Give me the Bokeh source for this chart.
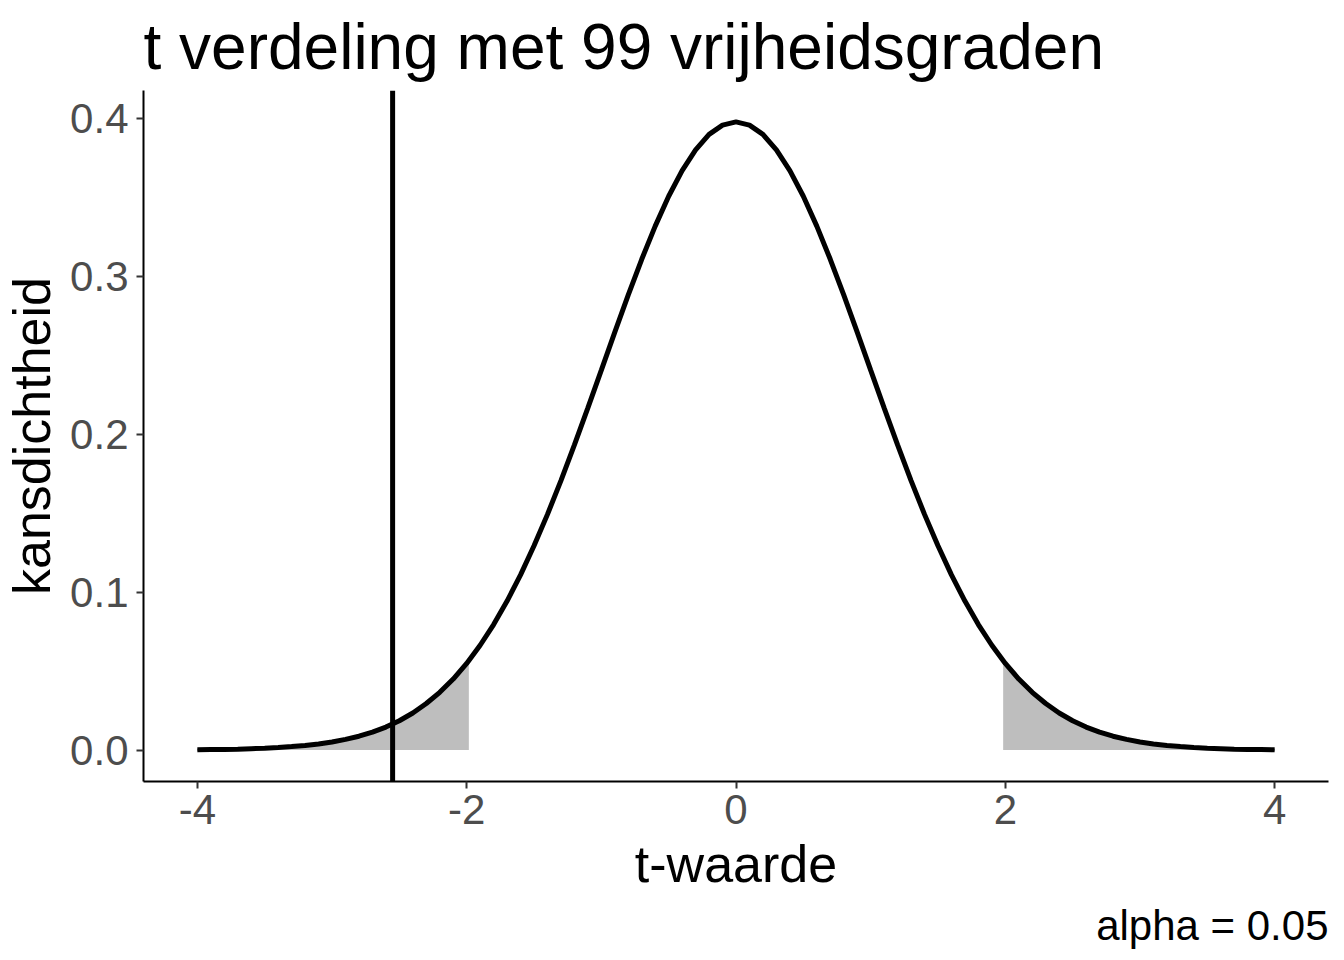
from bokeh.plotting import figure
from bokeh.models import Range1d, FixedTicker, Span, Title
from bokeh.embed import file_html
from bokeh.resources import INLINE

# ---- data ----
t_values = [-4.0, -3.9, -3.8, -3.7, -3.6, -3.5, -3.4, -3.3, -3.2, -3.1,
            -3.0, -2.9, -2.8, -2.7, -2.6, -2.5, -2.4, -2.3, -2.2, -2.1,
            -2.0, -1.9, -1.8, -1.7, -1.6, -1.5, -1.4, -1.3, -1.2, -1.1,
            -1.0, -0.9, -0.8, -0.7, -0.6, -0.5, -0.4, -0.3, -0.2, -0.1,
            0.0, 0.1, 0.2, 0.3, 0.4, 0.5, 0.6, 0.7, 0.8, 0.9,
            1.0, 1.1, 1.2, 1.3, 1.4, 1.5, 1.6, 1.7, 1.8, 1.9,
            2.0, 2.1, 2.2, 2.3, 2.4, 2.5, 2.6, 2.7, 2.8, 2.9,
            3.0, 3.1, 3.2, 3.3, 3.4, 3.5, 3.6, 3.7, 3.8, 3.9, 4.0]
density = [0.0002, 0.0003, 0.0004, 0.0006, 0.0009, 0.0012, 0.0016, 0.0022, 0.0029, 0.0039,
           0.0051, 0.0068, 0.0088, 0.0114, 0.0146, 0.0186, 0.0235, 0.0295, 0.0366, 0.0450,
           0.0549, 0.0664, 0.0795, 0.0944, 0.1110, 0.1294, 0.1493, 0.1707, 0.1933, 0.2168,
           0.2407, 0.2648, 0.2883, 0.3109, 0.3319, 0.3508, 0.3671, 0.3802, 0.3900, 0.3959,
           0.3979, 0.3959, 0.3900, 0.3802, 0.3671, 0.3508, 0.3319, 0.3109, 0.2883, 0.2648,
           0.2407, 0.2168, 0.1933, 0.1707, 0.1493, 0.1294, 0.1110, 0.0944, 0.0795, 0.0664,
           0.0549, 0.0450, 0.0366, 0.0295, 0.0235, 0.0186, 0.0146, 0.0114, 0.0088, 0.0068,
           0.0051, 0.0039, 0.0029, 0.0022, 0.0016, 0.0012, 0.0009, 0.0006, 0.0004, 0.0003, 0.0002]
critical_t = 1.984
critical_density = 0.0557
observed_t = -2.55

x_ticks = [-4, -2, 0, 2, 4]
x_tick_labels = ["-4", "-2", "0", "2", "4"]
y_ticks = [0.0, 0.1, 0.2, 0.3, 0.4]
y_tick_labels = ["0.0", "0.1", "0.2", "0.3", "0.4"]

title_text = "t verdeling met 99 vrijheidsgraden"
x_label = "t-waarde"
y_label = "kansdichtheid"
caption_text = "alpha = 0.05"

FONT = "Liberation Sans"
X_MIN, X_MAX = -4.4, 4.4
Y_MIN, Y_MAX = -0.0199, 0.4178

# tails for shading
left_x = [t for t in t_values if t <= -critical_t] + [-critical_t]
left_y = [d for t, d in zip(t_values, density) if t <= -critical_t] + [critical_density]
right_x = [critical_t] + [t for t in t_values if t >= critical_t]
right_y = [critical_density] + [d for t, d in zip(t_values, density) if t >= critical_t]

p = figure(width=1336, height=952, output_backend="svg", toolbar_location=None,
           x_range=Range1d(X_MIN, X_MAX), y_range=Range1d(Y_MIN, Y_MAX),
           min_border_left=136, min_border_right=8, min_border_top=82,
           min_border_bottom=171)

p.background_fill_color = "white"
p.border_fill_color = "white"
p.outline_line_color = None
p.xgrid.visible = False
p.ygrid.visible = False

# title
p.title.text = title_text
p.title.text_font = FONT
p.title.text_font_size = "64px"
p.title.text_font_style = "normal"
p.title.text_color = "black"
p.title.align = "left"
p.title.standoff = 16

# shaded tails
p.varea(x=left_x, y1=[0] * len(left_x), y2=left_y, fill_color="#BEBEBE")
p.varea(x=right_x, y1=[0] * len(right_x), y2=right_y, fill_color="#BEBEBE")
p.line(left_x, left_y, line_color="#6E6E6E", line_width=2)
p.line(right_x, right_y, line_color="#6E6E6E", line_width=2)

# density curve
p.line(t_values, density, line_color="black", line_width=5)

# observed t value
p.add_layout(Span(location=observed_t, dimension="height", line_color="black", line_width=5))

# axes
for ax in (p.xaxis[0], p.yaxis[0]):
    ax.axis_line_color = "black"
    ax.axis_line_width = 2
    ax.major_tick_line_color = "#333333"
    ax.major_tick_line_width = 2
    ax.major_tick_out = 7
    ax.major_tick_in = 0
    ax.minor_tick_line_color = None
    ax.major_label_text_font = FONT
    ax.major_label_text_font_size = "42px"
    ax.major_label_text_color = "#4D4D4D"
    ax.axis_label_text_font = FONT
    ax.axis_label_text_font_size = "52px"
    ax.axis_label_text_font_style = "normal"
    ax.axis_label_text_color = "black"

p.xaxis[0].ticker = FixedTicker(ticks=x_ticks)
p.xaxis[0].major_label_overrides = {t: l for t, l in zip(x_ticks, x_tick_labels)}
p.xaxis[0].major_label_standoff = 6
p.xaxis[0].axis_label = x_label
p.xaxis[0].axis_label_standoff = 8

p.yaxis[0].ticker = FixedTicker(ticks=y_ticks)
p.yaxis[0].major_label_overrides = {t: l for t, l in zip(y_ticks, y_tick_labels)}
p.yaxis[0].major_label_standoff = 8
p.yaxis[0].axis_label = y_label
p.yaxis[0].axis_label_standoff = 6

# caption, bottom right below the axis title
p.add_layout(Title(text=caption_text, align="right", text_font=FONT,
                   text_font_size="42px", text_font_style="normal",
                   text_color="black", standoff=8), "below")

open("out.html", "w").write(file_html(p, INLINE))
